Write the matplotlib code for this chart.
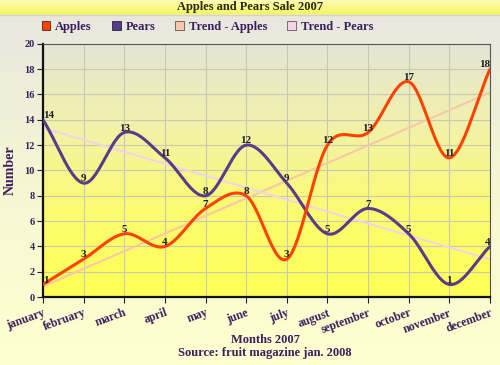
import matplotlib
matplotlib.use("Agg")
import matplotlib.pyplot as plt
import matplotlib.colors as mcolors
from matplotlib.patches import Patch
import numpy as np

months = ['january', 'february', 'march', 'april', 'may', 'june', 'july',
          'august', 'september', 'october', 'november', 'december']
apples = [1, 3, 5, 4, 7, 8, 3, 12, 13, 17, 11, 18]
pears = [14, 9, 13, 11, 8, 12, 9, 5, 7, 5, 1, 4]
yticks = list(range(0, 21, 2))

apple_color = '#ff4200'
pear_color = '#5b3a88'
trend_apple_color = '#f6c8a8'
trend_pear_color = '#f2d4e6'
text_color = '#3a1f5c'

plt.rcParams['font.family'] = ['Liberation Serif', 'DejaVu Serif']


def smooth(y, steps=30):
    # catmull-rom style curve through evenly spaced points
    y = np.asarray(y, dtype=float)
    n = len(y)
    m = np.zeros(n)
    m[1:-1] = (y[2:] - y[:-2]) / 2
    m[0] = y[1] - y[0]
    m[-1] = y[-1] - y[-2]
    xs, ys = [], []
    for i in range(n - 1):
        t = np.linspace(0, 1, steps, endpoint=(i == n - 2))
        h00 = 2 * t ** 3 - 3 * t ** 2 + 1
        h10 = t ** 3 - 2 * t ** 2 + t
        h01 = -2 * t ** 3 + 3 * t ** 2
        h11 = t ** 3 - t ** 2
        xs.append(i + t)
        ys.append(h00 * y[i] + h10 * m[i] + h01 * y[i + 1] + h11 * m[i + 1])
    return np.concatenate(xs), np.concatenate(ys)


fig = plt.figure(figsize=(5, 3.65), dpi=100)

# figure background gradient
bg = fig.add_axes([0, 0, 1, 1], zorder=-10)
bg.axis('off')
grad = np.linspace(0, 1, 256).reshape(-1, 1)
bg_cmap = mcolors.LinearSegmentedColormap.from_list('bg', ['#e6e6e0', '#f6f6d4', '#ffffd0'])
bg.imshow(grad, aspect='auto', cmap=bg_cmap, extent=[0, 1, 0, 1], origin='upper')
# title bar
bar_cmap = mcolors.LinearSegmentedColormap.from_list('bar', ['#fbfbb8', '#f6f660'])
bg.imshow(grad, aspect='auto', cmap=bar_cmap, extent=[0, 1, 1 - 14 / 365, 1], origin='upper')
bg.plot([0, 1], [1 - 14.5 / 365] * 2, color='#d8d8a0', linewidth=1)
bg.set_xlim(0, 1)
bg.set_ylim(0, 1)

ax = fig.add_axes([0.086, 0.186, 0.894, 0.694])
ax.set_xlim(0, len(months) - 1)
ax.set_ylim(0, 20)
plot_cmap = mcolors.LinearSegmentedColormap.from_list('plot', ['#e4e4d8', '#f2f2a8', '#fbfb70', '#ffff55'])
ax.imshow(grad, aspect='auto', cmap=plot_cmap, extent=[0, 11, 0, 20], origin='upper', zorder=0)

ax.set_xticks(range(len(months)))
ax.set_yticks(yticks)
ax.grid(True, color='#c8c8b4', linewidth=0.8, zorder=1)

x = np.arange(len(months))
for data, tcolor in [(apples, trend_apple_color), (pears, trend_pear_color)]:
    k, c = np.polyfit(x, data, 1)
    ax.plot(x, k * x + c, color=tcolor, linewidth=1.5, zorder=2)

for data, color in [(pears, pear_color), (apples, apple_color)]:
    sx, sy = smooth(data)
    ax.plot(sx, sy, color=color, linewidth=2.2, zorder=3, solid_capstyle='round')

for data in [apples, pears]:
    for i, v in enumerate(data):
        ha = 'center'
        if i == 0:
            ha = 'left'
        elif i == len(data) - 1:
            ha = 'right'
        ax.annotate(str(v), (i, v), xytext=(0, 3), textcoords='offset points',
                    ha=ha, va='center', fontsize=8, fontweight='bold',
                    color='#202020', zorder=5, annotation_clip=False)

ax.set_xticklabels(months, rotation=20, ha='right', rotation_mode='anchor',
                   fontsize=8.5, fontweight='bold', color=text_color)
ax.set_yticklabels([str(v) for v in yticks], fontsize=7.5, fontweight='bold', color=text_color)
ax.tick_params(axis='x', length=4, color='#222222', pad=3)
ax.tick_params(axis='y', length=4, color='#222222', pad=2)
for side in ['left', 'bottom']:
    ax.spines[side].set_linewidth(1.6)
    ax.spines[side].set_color('#111111')
for side in ['top', 'right']:
    ax.spines[side].set_linewidth(0.8)
    ax.spines[side].set_color('#555555')

ax.set_ylabel('Number', fontsize=10, fontweight='bold', color=text_color, labelpad=5)
fig.text(0.53, 1 - 340 / 365, 'Months 2007', ha='center', va='center',
         fontsize=9, fontweight='bold', color=text_color)
fig.text(0.53, 1 - 353 / 365, 'Source: fruit magazine jan. 2008', ha='center', va='center',
         fontsize=9, fontweight='bold', color=text_color)
fig.text(0.5, 1 - 7 / 365, 'Apples and Pears Sale 2007', ha='center', va='center',
         fontsize=9, fontweight='bold', color='#2a2a10')

handles = [Patch(facecolor=apple_color, edgecolor='#552222', linewidth=0.6),
           Patch(facecolor=pear_color, edgecolor='#222244', linewidth=0.6),
           Patch(facecolor=trend_apple_color, edgecolor='#665544', linewidth=0.6),
           Patch(facecolor=trend_pear_color, edgecolor='#665566', linewidth=0.6)]
labels = ['Apples', 'Pears', 'Trend - Apples', 'Trend - Pears']
leg = fig.legend(handles, labels, loc='center', bbox_to_anchor=(0.415, 1 - 27 / 365),
                 ncol=4, frameon=False, handlelength=0.7, handleheight=0.7,
                 handletextpad=0.4, columnspacing=1.6,
                 prop={'size': 9, 'weight': 'bold'})
for t in leg.get_texts():
    t.set_color(text_color)

fig.savefig('out.png', dpi=100)
